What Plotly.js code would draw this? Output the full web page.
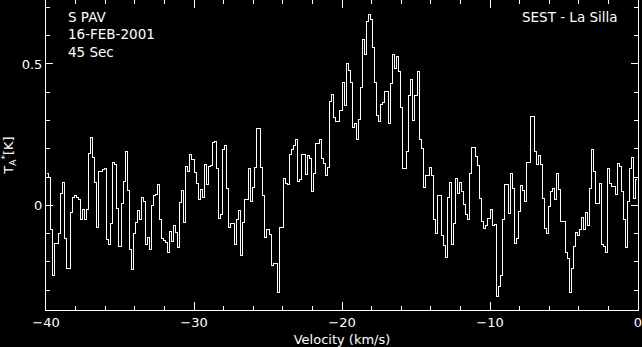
<!DOCTYPE html>
<html>
<head>
<meta charset="utf-8">
<script src="https://cdn.plot.ly/plotly-3.0.1.min.js"></script>
<style>
  html, body { margin: 0; padding: 0; background: #000; }
  #chart { width: 642px; height: 347px; }
  #chart .scatterlayer path, #chart path.xlines-above, #chart path.ylines-above,
  #chart path.xtick, #chart path.ytick { shape-rendering: crispEdges; }
</style>
</head>
<body>
<div id="chart"></div>
<script>
// Antenna temperature T_A* [K] per channel (left to right)
const tA_part1 = [
  0.111, 0.099, -0.085, -0.248, -0.134, -0.134, -0.099, 0.042, 0.080, -0.119,
  -0.224, -0.224, -0.024, 0.028, 0.033, 0.026, 0.021, -0.050, -0.014, -0.050,
  -0.014, 0.182, 0.241, 0.170, 0.080, -0.079, 0.119, 0.119, 0.125, 0.131,
  -0.120, -0.138, -0.064, 0.152, 0.143, -0.012, -0.146, 0.005, 0.084, 0.192,
  0.054, -0.156, -0.226, -0.099, -0.061, -0.019, -0.052, 0.028, 0.014, -0.140,
  -0.113, -0.156, -0.002, 0.034, 0.039, 0.075, -0.052, -0.117, -0.125, -0.131,
  -0.166, -0.094, -0.129, -0.071, -0.096, -0.149, 0.009, 0.053, -0.061, 0.139,
  0.118, 0.178, 0.163, 0.117, 0.078, 0.022, 0.057, 0.028, 0.143, 0.075,
  0.138, 0.140, 0.223, 0.226, 0.131, -0.046, -0.034, 0.198, 0.212, 0.060,
  -0.078, -0.064, -0.064, -0.138, -0.050, -0.017, -0.179, -0.060
];
const tA_part2 = [
  0.021, 0.021, 0.131, 0.015, 0.064, 0.134, 0.272, 0.272, 0.134, 0.035,
  -0.113, -0.085, -0.103, -0.213, -0.205, -0.205, -0.308, -0.078, -0.078, 0.096,
  0.078, 0.074, 0.178, 0.198, 0.212, 0.233, 0.085, 0.092, 0.178, 0.178,
  0.110, 0.175, 0.166, 0.048, 0.113, 0.217, 0.217, 0.231, 0.166, 0.149,
  0.107, 0.134, 0.367, 0.393, 0.311, 0.298, 0.298, 0.337, 0.436, 0.354,
  0.502, 0.476, 0.436, 0.276, 0.290, 0.233, 0.302, 0.417, 0.587, 0.535,
  0.649, 0.676, 0.656, 0.559, 0.436, 0.316, 0.295, 0.356, 0.363, 0.401,
  0.401, 0.290, 0.432, 0.535, 0.485, 0.526, 0.473, 0.347, 0.131, 0.131,
  0.190, 0.390, 0.446, 0.300, 0.390, 0.475, 0.231, 0.200, 0.064, 0.107,
  0.107, 0.134, 0.106, -0.050, -0.099, 0.035, 0.035, -0.108, -0.142, -0.184
];
const tA_part3 = [
  0.028, 0.080, -0.138, -0.064, 0.094, 0.040, 0.080, 0.050, 0.002, -0.034,
  -0.052, 0.111, 0.206, 0.206, 0.172, 0.140, 0.024, -0.059, -0.081, -0.073,
  -0.045, -0.014, -0.073, -0.068, -0.321, -0.288, -0.248, -0.050, 0.075, 0.075,
  -0.028, 0.111, 0.059, -0.134, -0.118, -0.021, 0.071, 0.052, 0.012, 0.151,
  0.151, 0.314, 0.314, 0.190, 0.146, 0.175, 0.146, 0.024, -0.081, -0.099,
  -0.005, 0.050, 0.061, 0.019, 0.113, 0.057, -0.059, -0.059, -0.166, -0.189,
  -0.309, -0.224, -0.146, -0.097, -0.106, -0.087, -0.042, -0.085, -0.024, -0.071,
  0.060, 0.198, 0.119, 0.007, 0.007, 0.078, -0.138, -0.146, -0.167, 0.131,
  0.078, 0.068, 0.068, 0.038, 0.149, 0.137, 0.050, -0.052, -0.149, 0.015,
  0.131, 0.170, 0.024, 0.090
];
const velocityStart = -40;      // km/s, left edge of first channel
const velocityEnd = 0;          // km/s, right edge of last channel

const xTickVals = [-40, -30, -20, -10, 0];
const xTickText = ['\u221240', '\u221230', '\u221220', '\u221210', '0'];
const yTickVals = [0, 0.5];
const yTickText = ['0', '0.5'];

const headerLeft = ['S PAV', '16-FEB-2001', '45 Sec'];
const headerRight = 'SEST - La Silla';

const tA = tA_part1.concat(tA_part2, tA_part3);
const channelWidth = (velocityEnd - velocityStart) / tA.length;

const trace = {
  type: 'scatter',
  mode: 'lines',
  y: tA,
  x0: velocityStart + channelWidth / 2,
  dx: channelWidth,
  line: { color: '#ffffff', width: 1, shape: 'hvh' },
  hoverinfo: 'skip'
};

const font = { family: 'DejaVu Sans, sans-serif', color: '#ffffff', size: 13 };
const noteFont = { family: 'DejaVu Sans, sans-serif', color: '#ffffff', size: 13.5 };

const annotations = headerLeft.map((t, i) => ({
  text: t, xref: 'paper', yref: 'paper', x: 0.034, y: [0.944, 0.889, 0.833][i],
  xanchor: 'left', yanchor: 'middle', showarrow: false, font: noteFont
}));
annotations.push({
  text: headerRight, xref: 'paper', yref: 'paper', x: 0.970, y: 0.944,
  xanchor: 'right', yanchor: 'middle', showarrow: false, font: noteFont
});

const layout = {
  width: 642, height: 347,
  margin: { l: 46, r: 4, t: 0, b: 37, pad: 0 },
  paper_bgcolor: '#000000', plot_bgcolor: '#000000',
  font: font,
  showlegend: false,
  xaxis: {
    range: [velocityStart, velocityEnd],
    tickvals: xTickVals, ticktext: xTickText,
    ticks: 'inside', ticklen: 8, tickwidth: 1, tickcolor: '#ffffff',
    minor: { dtick: 2, tick0: 0, ticks: 'inside', ticklen: 4, tickwidth: 1, tickcolor: '#ffffff', showgrid: false },
    showline: true, linecolor: '#ffffff', linewidth: 1, mirror: 'allticks',
    showgrid: false, zeroline: false,
    ticklabeloverflow: 'allow',
    tickfont: font,
    title: { text: 'Velocity (km/s)', font: font, standoff: 11 }
  },
  yaxis: {
    range: [-0.3704, 0.7262],
    tickvals: yTickVals, ticktext: yTickText,
    ticks: 'inside', ticklen: 7, tickwidth: 1, tickcolor: '#ffffff',
    minor: { dtick: 0.1, tick0: 0, ticks: 'inside', ticklen: 4, tickwidth: 1, tickcolor: '#ffffff', showgrid: false },
    showline: true, linecolor: '#ffffff', linewidth: 1, mirror: 'allticks',
    showgrid: false, zeroline: false,
    ticklabeloverflow: 'allow',
    tickfont: font,
    title: { text: 'T<sub>A</sub><sup>*</sup>[K]', font: font, standoff: 6 }
  },
  annotations: annotations
};

Plotly.newPlot('chart', [trace], layout, { staticPlot: true, displayModeBar: false });
</script>
</body>
</html>
